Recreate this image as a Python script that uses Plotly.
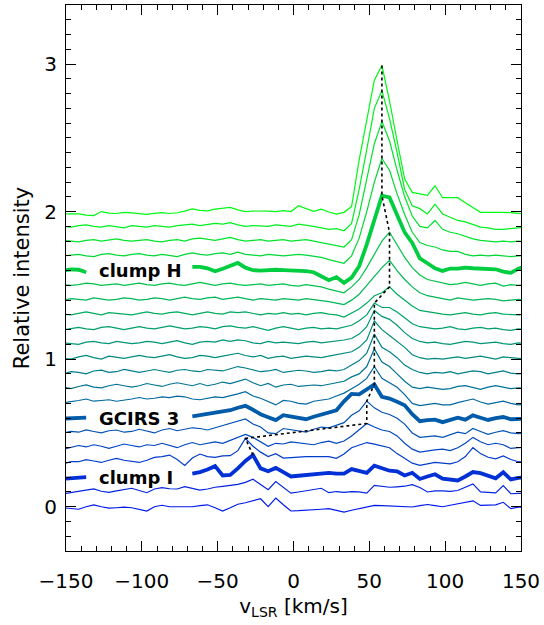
import plotly.graph_objects as go

# channel velocities (km/s), 5 km/s spacing
velocity = [round(-151.7 + 5 * k, 1) for k in range(62)]

# vertical offset of each spectrum (relative intensity)
offsets = [0.0, 0.1, 0.2, 0.3, 0.4, 0.5, 0.6, 0.7, 0.8, 0.9, 1.0,
           1.1, 1.2, 1.3, 1.4, 1.5, 1.6, 1.7, 1.8, 1.9, 2.0]

N = None
# spectra, in units of 0.01 relative intensity above each spectrum's own baseline
s00 = [-0.7, -1.3, -1.7, 0, 1.3, 0, -1, -0.7, -0.3, -0.7,
       -2, -2.9, 0, 1, 0, 0, 0, 0, 0.7, 1.3,
       -0.7, -2.9, -0.7, 1.7, 2.7, 4, 5.4, 0, 5.9, 1.3,
       -2.9, -2.7, -2.5, -2, -1.7, -1.3, -2.4, -3.6, -2.4, -1.3,
       -0.3, 0.9, 0.7, 0.5, 0.3, 0, -0.2, 0.7, 1.5, 0.7,
       0, 1, 2, 3.4, 4, 0.9, 1, 1.3, 3, -1.3, -0.3, -0.3]
s01 = [-1.2, -0.5, 0.2, 1.3, 2.1, 0.5, -0.3, 0.7, 1.5, 2.5,
       1, -0.5, 2, 3, 2.2, 2, 3.6, 2.5, 1.3, 2,
       3.2, 3.8, 4.4, 5.2, 6.5, 8.6, 5, 1.5, 7, 3,
       -0.8, 0, 0.8, 1.5, 2.5, -0.5, 0.3, -0.3, 0.3, 0,
       -0.8, 4.5, 4, 3.2, 3.5, 3.9, 5, 3, 0, 0.8,
       0.7, 0.4, 1, 3.5, 5.5, 0, -0.5, -0.6, 4.3, -1.2, -1, -0.8]
s02 = [-1.1, -0.8, -0.5, 0, N, N, N, N, N, N,
       N, N, N, N, N, N, N, 2.5, 3.5, 5.2,
       7.5, 1.2, 1.5, 6, 11, 15, 6, 4, 6.3, 3.5,
       0.5, 1, 1.6, 2.4, 3, 3, 2.4, 2.5, 5.5, 4,
       3, 7.8, 6, 4.4, 4, 1.2, 3, -1.2, 0.5, 2,
       -1, -1.8, -2.2, 0.5, 3.5, 2.8, 1, -0.7, 3.3, -1.5, -0.5, 0]
s03 = [-1, 0.5, 0.5, 1.9, 1, 0, 1.5, 2.8, 1.5, 0.5,
       0, 1.5, 3.4, 4, 5, 2, -2, 3, 5.7, 4,
       3.4, 4.5, 4.6, 8, 16.3, 11, 7, 4, 6, 3,
       3.4, 3.6, 3.9, 3.9, 3.9, 3.9, 2.8, 5.7, 10, 12,
       13.5, 12.4, 11, 10, 6, 3, -0.5, -2, -1, 0,
       -0.5, -1, 0.5, 4, 10, 6, 3.5, 2.4, 4.4, 2, 0.5, 0]
s04 = [-1, 0, 1.5, 0.5, 2, 1, -0.5, 1, 2.5, 1.5,
       0.5, 2, 1.5, 3, 1.5, 0, 2, 3.5, 2, 3,
       4, 3, 5, 6.5, 9, 7, 4, 1, 3, 2.5,
       4, 3.5, 3, 2, 3.5, 4.5, 3, 4.5, 8, 12,
       16.4, 14, 12, 11, 8, 3, -1, -3, -2, -1.5,
       -1, -2, 0, 3, 7, 4, 2, 3, 2, -0.5, 0, 0]
s05 = [0, 1, 0.5, 2, 1, 0, 1.5, 2, 0.5, 1,
       2.5, 1, 0, 2, 3, 1.5, 2.5, 3.5, 3, 2,
       3.5, 5, 6, 8, 9.5, 6, 4, 0, -0.5, 3,
       2, 1.5, 0.5, 2.5, 4, 3.5, 5, 7, 12, 15,
       21.6, 17, 14, 12.5, 10, 6, 0, -3, -2.5, -2,
       -3, -1, 0.5, -0.5, 3, 1, -1, 0.5, 1.5, 0, -0.5, 0]
s06 = [-0.3, 0, 0.3, 0.4, N, N, N, N, N, N,
       N, N, N, N, N, N, N, 1.3, 2, 2.7,
       3.7, 4.6, 5.4, 7.1, 8.4, 5.7, 2.7, 0.7, -1.3, 2,
       1, 0, -0.7, 1, 2.4, 3.4, 5.4, 11.4, 16.5, 16.2,
       19.8, 22.9, 14.5, 13.3, 11.1, 8.7, 2.7, -2, -1.3, -1,
       -2.7, -1.3, 0.3, -1, 1.9, 0.3, -1.2, 0, 0.8, -0.7, -0.3, -0.3]
s07 = [0.5, 1, 2, 3, 1.5, 2, 2.5, 1.5, 2, 3,
       4, 3, 3.5, 4.5, 4, 5, 4.5, 3, 2.5, 3.5,
       4.5, 4, 5, 6.5, 8, 5, 3.5, 1, -1, 2,
       1.5, 0, -0.5, 1.5, 2.5, 3, 5, 7, 10, 13,
       17, 25, 17, 14, 11, 6, 0, -1.5, -0.5, 0,
       -1, -1, 0.5, 1.5, 3, 1, -0.5, 0.5, 1.5, 0, -1, -0.5]
s08 = [1, 0, 1.5, 2.5, 1, 0.5, 2, 3, 2, 1,
       2, 3.5, 2.5, 1.5, 3, 4, 3, 2, 3.5, 2,
       3, 4.5, 3.5, 5, 6.5, 4, 2, 3.5, 1, 2.5,
       3, 1.5, 2, 2.5, 2, 3, 3.5, 5, 8, 10,
       15, 27, 18, 15, 10, 5, 1, 0, 1, 0.5,
       -0.5, 0, 1.5, 2, 0.5, -0.5, 1, 2, 1, 0, 0.5, 0]
s09 = [0, 1.5, 1, 0, 2, 2.5, 1, 1.5, 3, 2,
       1, 2, 3, 2, 1, 2.5, 3, 2, 1.5, 3,
       2.5, 2, 3.5, 5, 4, 3, 1.5, 2, 3, 1,
       1.5, 2.5, 2, 1, 1.5, 2.5, 2, 3, 6, 9,
       14, 27, 18, 15, 11, 6, 3, 1, 0, 1,
       0.5, 1.5, 0, 1, 2, 1.5, 0, 1, 2, 0.5, 0, 0.5]
s10 = [0.5, 0, 1.5, 2.5, 1, 0, 2, 1, 0.5, 1.5,
       2.5, 1.5, 1, 2, 3, 1.5, 0.5, 1, 2.5, 2,
       1, 2, 3, 4, 2.5, 1.5, 2.5, 0.5, 1.5, 2,
       0.5, 1, 2, 1.5, 1, 2, 3, 3.5, 5, 8,
       13, 26, 20, 16, 12, 8, 3, 1, 0, 0.5,
       0, 1, 1.5, 0.5, 1, 2, 1, 0, 1.5, 1, 0, 0]
s11 = [1, 0.5, 0, 1.5, 2, 1, 0.5, 2, 1.5, 0.5,
       1, 2, 1.5, 0.5, 1.5, 2.5, 1, 0, 1.5, 2,
       1.5, 3, 2, 3, 2.5, 1, 0.5, 2, 1, 1.5,
       1, 0.5, 1.5, 2, 1, 1.5, 2.5, 3, 4, 7,
       12, 23, 19, 17, 13, 8, 4, 2, 1, 1.5,
       0.5, 0, 1, 2, 1.5, 0.5, 1, 1.5, 0.5, 0, 1, 0.5]
s12 = [0, 1, 1.5, 0.5, 0, 1.5, 2, 1, 0, 1,
       2, 1, 0.5, 1.5, 2.5, 1.5, 0.5, 1, 2, 1.5,
       0.5, 2, 2.5, 1.5, 1, 2, 0.5, -0.5, 1, 2,
       1, 0, 1, 1.5, 0.5, 1, 0.5, 1.5, 3, 6,
       10, 18, 15, 15, 12, 8, 4, 2, 1.5, 0.5,
       1, 2, 0.5, 0, 1, 1.5, 0.5, 1, 0, -0.5, 0.5, 0]
s13 = [0.5, 0, 1, 2, 1, 0, 1.5, 1, 0.5, 0,
       1, 2, 1, 0.5, 1.5, 2, 1, 0, 1, 2,
       1, 0.5, 2, 1.5, 2, 1, 0, 1, 0.5, 1.5,
       0.5, 1, 0, 1, 1.5, 0.5, 0, -1.5, 1, 4,
       8, 13, 15, 19, 14, 10, 6, 3, 2, 1.5,
       0.5, 0, 1, 1.5, 0.5, 0, 1, 1.5, 0.5, 0, 0, 0.5]
s14 = [0, 1, 0.5, 0, 1.5, 1, 0, 0.5, 1.5, 1,
       0, 0.5, 1.5, 1, 0, 1, 2, 1, 0.5, 1.5,
       2, 0.5, 1, 2, 1, 0, 1, 0.5, 0, 1,
       0.5, 0, 1, 0.5, 0, -1, -2, -3, 0, 4,
       10, 16, 22, 27, 20, 14, 9, 5, 3, 2,
       1, 0, 1.5, 1, 0, 0.5, 1, 0.5, -0.5, 0, 0.5, 0]
s15 = [0.5, 0, 0.5, 1.5, 1, 0, 0.5, 1, 0, 1,
       1.5, 0.5, 0, 1, 1.5, 0.5, 0, 1, 2, 1,
       0, 1, 1.5, 0.5, 0, 0.5, 1, 0, 0.5, 1,
       0, -0.5, 0.5, 0, -1, -2.5, -3.5, -5, -1, 4,
       12, 21, 30, 36, 27, 19, 12, 7, 4, 3,
       2, 0.5, 1, 2, 1, 0, 1, 1.5, -0.5, 0.5, 0, 0.5]
s16 = [0, 0.9, 0.6, -1.1, N, N, N, N, N, N,
       N, N, N, N, N, N, N, 2.5, 2.5, 1.6,
       -0.4, 1.3, 3.3, 5.2, 2, 0.3, 0, 0.6, 0.6, 0.3,
       0, 0.3, -0.4, -1.1, -3.8, -6.5, -4.4, -8.3, -4.7, 3,
       17.8, 34.2, 50.8, 49.6, 38.2, 25.9, 18.8, 8.3, 5, 1.6,
       -0.2, 1.4, 1.3, 2, 1.6, 1.3, 1.4, 0.9, -0.7, -1.5, 1.3, 3]
s17 = [0, 0.5, 1, 0, -0.5, 1, 1.5, 0.5, 0, 1,
       1.5, 0.5, 0, 1, 0.5, -0.5, 1, 2, 1, 0.5,
       1.5, 2, 1, 2.5, 1, 0.5, 0, 1, 0.5, 0,
       0.5, 1, 0.5, 0, -1, -2.5, -3.5, -5, 0, 12,
       30, 50, 66, 58, 42, 28, 16, 9, 7, 6,
       4, 3, 3, 1, 0, 0.5, 0, 0.5, 0, -0.5, 0, 0]
s18 = [0.5, 0, -0.5, 0.5, 1, 0, 0.5, 1.5, 0.5, 0,
       0.5, 1, 0, -0.5, 0.5, 1, 0, 1.5, 2, 1,
       0.5, 1.5, 2.5, 1, 0, 0.5, 1, 0, 0.5, 1,
       0, 0.5, 1, 0, -1, -2, -3, -4, 1, 18,
       42, 66, 81, 68, 48, 30, 17, 10, 9, 14,
       8, 6, 5, 3, 1.5, 0.5, 0, -0.5, 0, -0.5, 0, -0.5]
s19 = [0, -0.5, 0.5, 1, 0, -0.5, 0.5, 0, -1, 0.5,
       0, -0.5, 0.5, 0, -0.5, 0.5, 1, 1.5, 0.5, 1,
       2, 1.5, 2.5, 1, 0, 0.5, 0.5, 0, 1, 0.5,
       0, 1.5, 1, 0, -1, -2, -1.5, -3, 2, 25,
       52, 80, 92, 73, 50, 25, 14, 12, 8.4, 15,
       8.4, 6, 4, 3, 1, -0.5, -1, -2, -2, -1.5, -0.6, -0.5]
s20 = [-1.5, -1.5, -1.5, -2.4, -2.7, 0, -1, -1.3, -0.5, -0.8,
       -1.3, -1.9, -1.2, -0.7, -1.3, -0.8, 0.3, 1.8, 0.8, 0.5,
       1.7, 2.2, 2.9, 1.2, 0, 0.4, 0.5, 0.3, 0, 0.7,
       0, 4, 2, 0.2, 1.7, -0.3, -1.7, -0.5, 3.4, 35,
       62, 89, 99, 75, 48, 22, 13, 12, 11, 17.5,
       9.4, 9.4, 9.4, 6, 2.7, -0.5, -0.5, -0.3, -0.5, -0.7, -1.3, -1.7]

spectra = [s00, s01, s02, s03, s04, s05, s06, s07, s08, s09, s10,
           s11, s12, s13, s14, s15, s16, s17, s18, s19, s20]

# labelled (thick) spectra: index -> label
labels = {2: "clump I", 6: "GCIRS 3", 16: "clump H"}
label_velocity = -129.5
# first spectrum whose peak is linked by the dotted line
first_linked = 2

FONT = "DejaVu Sans"

fig = go.Figure()
n = len(spectra)
for i, (spec, off) in enumerate(zip(spectra, offsets)):
    t = i / (n - 1)
    col = f"rgb(0,{round(25 + 225 * t)},{round(235 * (1 - t) + 20 * t)})"
    y = [None if v is None else off + v / 100.0 for v in spec]
    fig.add_trace(go.Scatter(
        x=velocity, y=y, mode="lines",
        line=dict(color=col, width=3.8 if i in labels else 1.2),
        connectgaps=False, hoverinfo="skip", showlegend=False))

# dotted line joining the peak of each spectrum
px, py = [], []
for i in range(first_linked, n):
    spec = spectra[i]
    vals = [(v, k) for k, v in enumerate(spec) if v is not None]
    vmax, kmax = max(vals)
    px.append(velocity[kmax])
    py.append(offsets[i] + vmax / 100.0)
fig.add_trace(go.Scatter(x=px, y=py, mode="lines",
                         line=dict(color="black", width=1.6, dash="dot"),
                         hoverinfo="skip", showlegend=False))

for i, txt in labels.items():
    fig.add_annotation(x=label_velocity, y=offsets[i], text=f"<b>{txt}</b>", showarrow=False,
                       font=dict(family=FONT, size=18, color="black"),
                       xanchor="left", yanchor="middle")

axis_common = dict(showline=True, linecolor="black", linewidth=1, mirror="allticks",
                   ticks="inside", ticklen=10, tickwidth=1, tickcolor="black",
                   showgrid=False, zeroline=False,
                   tickfont=dict(family=FONT, size=20, color="black"))

fig.update_xaxes(range=[-150, 150], dtick=50, tick0=0, ticklabelstandoff=12,
                 minor=dict(ticks="inside", ticklen=5, dtick=10, tickcolor="black", showgrid=False),
                 title=dict(text="v<sub>LSR</sub> [km/s]",
                            font=dict(family=FONT, size=20, color="black"), standoff=6),
                 **axis_common)
fig.update_yaxes(range=[-0.3, 3.4], dtick=1, tick0=0, ticklabelstandoff=4,
                 minor=dict(ticks="inside", ticklen=5, dtick=0.1, tickcolor="black", showgrid=False),
                 title=dict(text="Relative intensity",
                            font=dict(family=FONT, size=21, color="black"), standoff=8),
                 **axis_common)

fig.update_layout(width=544, height=625, margin=dict(l=66, r=21, t=4, b=74),
                  plot_bgcolor="white", paper_bgcolor="white")

fig.write_html("out.html")
